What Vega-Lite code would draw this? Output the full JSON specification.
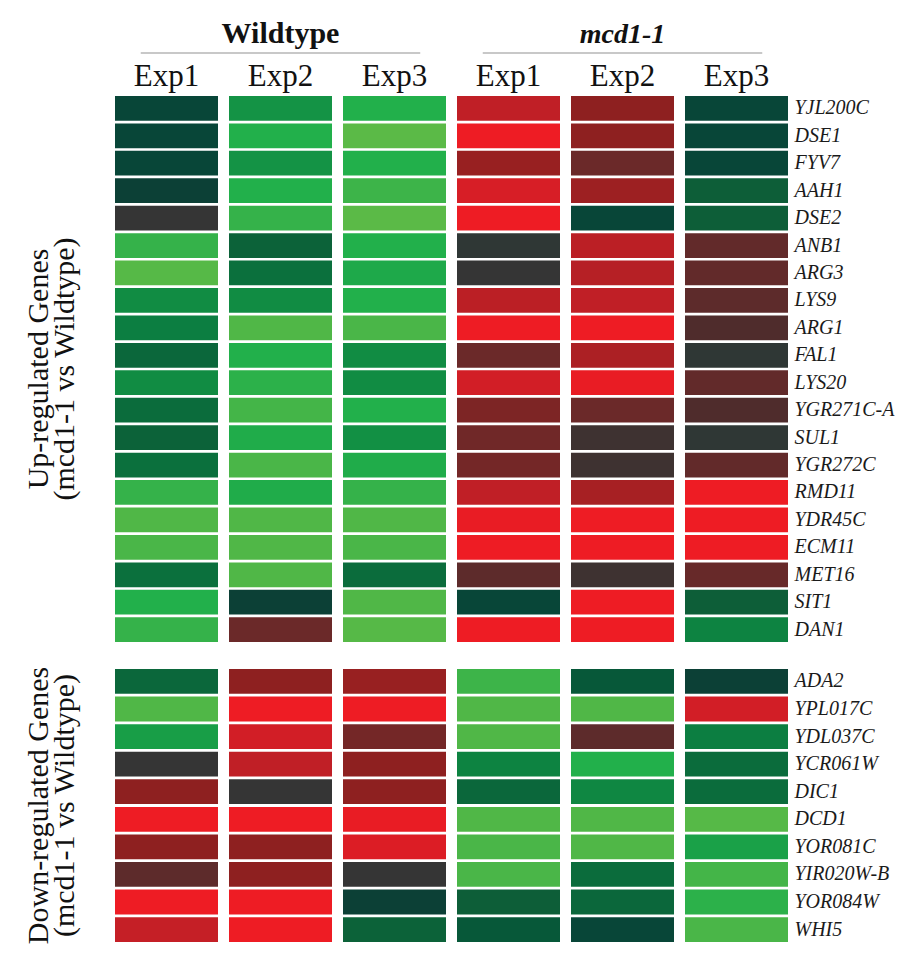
{
  "$schema": "https://vega.github.io/schema/vega-lite/v6.json",
  "autosize": "pad",
  "padding": {"left": 23, "top": 19, "right": 5, "bottom": 5},
  "background": "white",
  "config": {"view": {"stroke": null}, "font": "Liberation Serif"},
  "bounds": "flush",
  "spacing": 27,
  "datasets": {
    "header": [
      {"label": "Wildtype", "center": "WT2", "start": "WT1", "end": "WT3"},
      {"label": "mcd1-1", "center": "M2", "start": "M1", "end": "M3"}
    ],
    "up": [
      {"gene": "YJL200C", "WT1": -0.6, "WT2": -2.2, "WT3": -3, "M1": 3, "M2": 2, "M3": -0.6},
      {"gene": "DSE1", "WT1": -0.6, "WT2": -3, "WT3": -3.8, "M1": 4, "M2": 2, "M3": -0.6},
      {"gene": "FYV7", "WT1": -0.6, "WT2": -2.2, "WT3": -3, "M1": 2.2, "M2": 1.2, "M3": -0.6},
      {"gene": "AAH1", "WT1": -0.5, "WT2": -3, "WT3": -3.3, "M1": 3.5, "M2": 2.3, "M3": -1},
      {"gene": "DSE2", "WT1": 0, "WT2": -3.2, "WT3": -3.8, "M1": 4, "M2": -0.6, "M3": -1},
      {"gene": "ANB1", "WT1": -3.2, "WT2": -1.1, "WT3": -3, "M1": -0.1, "M2": 2.9, "M3": 1},
      {"gene": "ARG3", "WT1": -3.7, "WT2": -1.4, "WT3": -2.8, "M1": 0, "M2": 2.8, "M3": 1},
      {"gene": "LYS9", "WT1": -2, "WT2": -2, "WT3": -3, "M1": 2.9, "M2": 3, "M3": 0.9},
      {"gene": "ARG1", "WT1": -1.7, "WT2": -3.6, "WT3": -3.5, "M1": 4, "M2": 4, "M3": 0.6},
      {"gene": "FAL1", "WT1": -1.2, "WT2": -3, "WT3": -2, "M1": 1.2, "M2": 2.6, "M3": -0.1},
      {"gene": "LYS20", "WT1": -2, "WT2": -3.1, "WT3": -2, "M1": 3.4, "M2": 3.9, "M3": 1},
      {"gene": "YGR271C-A", "WT1": -1.3, "WT2": -3.4, "WT3": -3, "M1": 1.6, "M2": 1.2, "M3": 0.6},
      {"gene": "SUL1", "WT1": -1.1, "WT2": -2.9, "WT3": -2.1, "M1": 1.3, "M2": 0.2, "M3": -0.1},
      {"gene": "YGR272C", "WT1": -1.4, "WT2": -3.5, "WT3": -2.9, "M1": 1.4, "M2": 0.2, "M3": 1},
      {"gene": "RMD11", "WT1": -3.2, "WT2": -2.9, "WT3": -3.2, "M1": 3, "M2": 2.5, "M3": 4},
      {"gene": "YDR45C", "WT1": -3.6, "WT2": -3.6, "WT3": -3.6, "M1": 3.9, "M2": 4, "M3": 4},
      {"gene": "ECM11", "WT1": -3.5, "WT2": -3.6, "WT3": -3.5, "M1": 4, "M2": 4, "M3": 4},
      {"gene": "MET16", "WT1": -1.4, "WT2": -3.6, "WT3": -1.3, "M1": 0.9, "M2": 0.2, "M3": 1.1},
      {"gene": "SIT1", "WT1": -3, "WT2": -0.5, "WT3": -3.6, "M1": -0.6, "M2": 4, "M3": -1},
      {"gene": "DAN1", "WT1": -3.2, "WT2": 1.2, "WT3": -3.7, "M1": 4, "M2": 4, "M3": -1.8}
    ],
    "down": [
      {"gene": "ADA2", "WT1": -1.2, "WT2": 2, "WT3": 2.2, "M1": -3.3, "M2": -0.9, "M3": -0.5},
      {"gene": "YPL017C", "WT1": -3.6, "WT2": 4, "WT3": 4, "M1": -3.6, "M2": -3.6, "M3": 3.4},
      {"gene": "YDL037C", "WT1": -2.5, "WT2": 3.4, "WT3": 1.4, "M1": -3.6, "M2": 0.9, "M3": -1.7},
      {"gene": "YCR061W", "WT1": 0, "WT2": 3, "WT3": 2, "M1": -1.8, "M2": -3, "M3": -1.3},
      {"gene": "DIC1", "WT1": 2, "WT2": 0, "WT3": 2, "M1": -1.2, "M2": -1.9, "M3": -1.3},
      {"gene": "DCD1", "WT1": 4, "WT2": 4, "WT3": 3.9, "M1": -3.6, "M2": -3.6, "M3": -3.7},
      {"gene": "YOR081C", "WT1": 2, "WT2": 2, "WT3": 3.6, "M1": -3.5, "M2": -3.6, "M3": -2.6},
      {"gene": "YIR020W-B", "WT1": 0.9, "WT2": 2, "WT3": 0, "M1": -3.5, "M2": -1.3, "M3": -3.4},
      {"gene": "YOR084W", "WT1": 4, "WT2": 4, "WT3": -0.5, "M1": -1, "M2": -1.2, "M3": -3.1},
      {"gene": "WHI5", "WT1": 3.1, "WT2": 4, "WT3": -1.1, "M1": -0.9, "M2": -0.6, "M3": -3.5}
    ]
  },
  "vconcat": [
    {
      "width": 673,
      "height": 26,
      "data": {"name": "header"},
      "layer": [
        {
          "transform": [{"filter": "datum.label === 'Wildtype'"}],
          "mark": {"type": "text", "fontWeight": "bold", "fontSize": 30, "baseline": "alphabetic", "align": "center", "color": "#111", "font": "Liberation Serif"},
          "encoding": {
            "x": {"field": "center", "type": "nominal", "scale": {"domain": ["WT1", "WT2", "WT3", "M1", "M2", "M3"], "paddingInner": 0.0965, "paddingOuter": 0}, "axis": null},
            "y": {"datum": "title", "type": "nominal", "scale": {"type": "point", "domain": ["title", "rule"], "padding": 0.8, "align": 0}, "axis": null},
            "text": {"field": "label"}
          }
        },
        {
          "transform": [{"filter": "datum.label === 'mcd1-1'"}],
          "mark": {"type": "text", "fontWeight": "bold", "fontStyle": "italic", "fontSize": 28, "baseline": "alphabetic", "align": "center", "color": "#111", "font": "Liberation Serif"},
          "encoding": {
            "x": {"field": "center", "type": "nominal", "axis": null},
            "y": {"datum": "title", "type": "nominal", "axis": null},
            "text": {"field": "label"}
          }
        },
        {
          "mark": {"type": "rule", "color": "#c8c8c8", "strokeWidth": 2},
          "encoding": {
            "x": {"field": "start", "type": "nominal", "bandPosition": 0.25, "axis": null},
            "x2": {"field": "end", "bandPosition": 0.75},
            "y": {"datum": "rule", "type": "nominal", "axis": null}
          }
        }
      ]
    },
    {
      "width": 673,
      "height": 546,
      "title": {"text": ["Up-regulated Genes", "(mcd1-1 vs Wildtype)"], "orient": "left", "anchor": "middle", "fontSize": 30, "font": "Liberation Serif", "fontWeight": "normal", "lineHeight": 26, "offset": 35, "color": "#111"},
      "data": {"name": "up"},
      "transform": [{"fold": ["WT1", "WT2", "WT3", "M1", "M2", "M3"], "as": ["col", "value"]}],
      "mark": {"type": "rect"},
      "encoding": {
        "x": {"field": "col", "type": "nominal", "scale": {"domain": ["WT1", "WT2", "WT3", "M1", "M2", "M3"], "paddingInner": 0.0965, "paddingOuter": 0},
          "axis": {"orient": "top", "title": null, "labelExpr": "'Exp' + slice(datum.value, -1)", "ticks": false, "domain": false, "labelPadding": 11, "labelBaseline": "alphabetic", "labelFontSize": 31, "labelFont": "Liberation Serif", "labelColor": "#111", "labelAngle": 0}},
        "y": {"field": "gene", "type": "nominal", "sort": null, "scale": {"paddingInner": 0.1, "paddingOuter": 0},
          "axis": {"orient": "right", "title": null, "ticks": false, "domain": false, "labelPadding": 6, "labelFontSize": 20, "labelFont": "Liberation Serif", "labelFontStyle": "italic", "labelColor": "#1a1a1a"}},
        "color": {"field": "value", "type": "quantitative", "legend": null,
          "scale": {"domain": [-4, -3, -2, -1, -0.5, 0, 0.5, 1, 2, 3, 4], "range": ["#66bc46", "#22b04b", "#118c43", "#0d5e38", "#0c4036", "#353535", "#4a2c2c", "#622a2a", "#8e2020", "#c01f26", "#ee1c24"]}}
      }
    },
    {
      "width": 673,
      "height": 273,
      "title": {"text": ["Down-regulated Genes", "(mcd1-1 vs Wildtype)"], "orient": "left", "anchor": "middle", "fontSize": 30, "font": "Liberation Serif", "fontWeight": "normal", "lineHeight": 26, "offset": 35, "color": "#111"},
      "data": {"name": "down"},
      "transform": [{"fold": ["WT1", "WT2", "WT3", "M1", "M2", "M3"], "as": ["col", "value"]}],
      "mark": {"type": "rect"},
      "encoding": {
        "x": {"field": "col", "type": "nominal", "scale": {"domain": ["WT1", "WT2", "WT3", "M1", "M2", "M3"], "paddingInner": 0.0965, "paddingOuter": 0}, "axis": null},
        "y": {"field": "gene", "type": "nominal", "sort": null, "scale": {"paddingInner": 0.1, "paddingOuter": 0},
          "axis": {"orient": "right", "title": null, "ticks": false, "domain": false, "labelPadding": 6, "labelFontSize": 20, "labelFont": "Liberation Serif", "labelFontStyle": "italic", "labelColor": "#1a1a1a"}},
        "color": {"field": "value", "type": "quantitative", "legend": null,
          "scale": {"domain": [-4, -3, -2, -1, -0.5, 0, 0.5, 1, 2, 3, 4], "range": ["#66bc46", "#22b04b", "#118c43", "#0d5e38", "#0c4036", "#353535", "#4a2c2c", "#622a2a", "#8e2020", "#c01f26", "#ee1c24"]}}
      }
    }
  ]
}
